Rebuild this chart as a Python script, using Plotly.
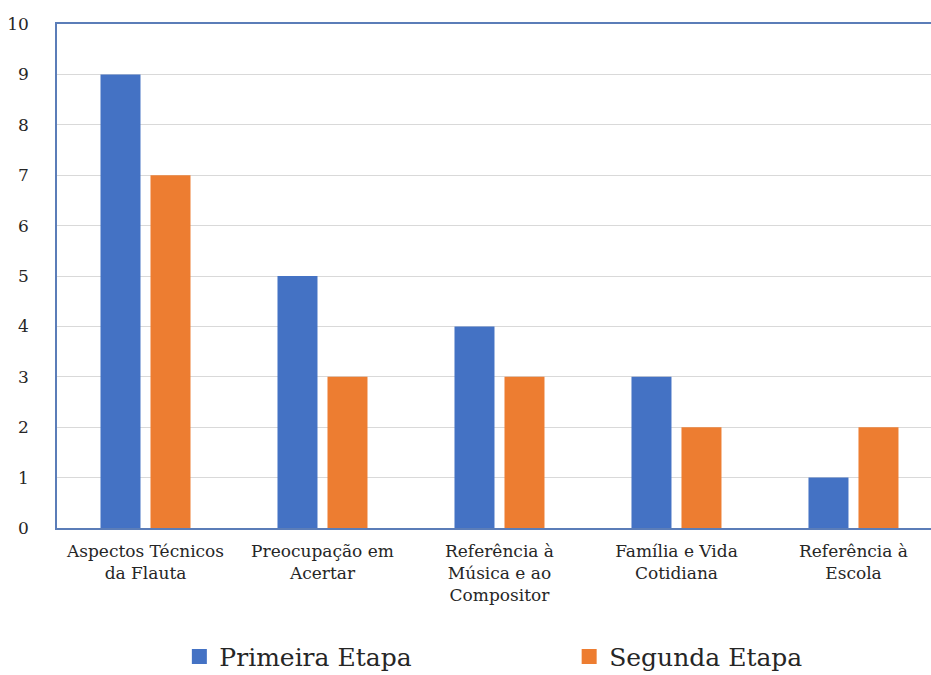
import plotly.graph_objects as go

categories = [
    "Aspectos Técnicos<br>da Flauta",
    "Preocupação em<br>Acertar",
    "Referência à<br>Música e ao<br>Compositor",
    "Família e Vida<br>Cotidiana",
    "Referência à<br>Escola",
]
primeira = [9, 5, 4, 3, 1]
segunda = [7, 3, 3, 2, 2]
series_names = ["Primeira Etapa", "Segunda Etapa"]
colors = ["#4472C4", "#ED7D31"]

FONT = "DejaVu Serif"

fig = go.Figure()
for name, vals, col in zip(series_names, [primeira, segunda], colors):
    fig.add_trace(go.Bar(x=categories, y=vals, name=name, marker_color=col,
                         marker_line_width=0, showlegend=False))
for name, col, lg in zip(series_names, colors, ["legend", "legend2"]):
    fig.add_trace(go.Scatter(x=[None], y=[None], mode="markers", name=name,
                             legend=lg,
                             marker=dict(symbol="square", size=15, color=col)))

legend_common = dict(orientation="h", xanchor="left", yref="container",
                     y=0.027, yanchor="middle",
                     font=dict(size=25, family=FONT, color="#262626"),
                     itemwidth=30, bgcolor="rgba(0,0,0,0)")

fig.update_layout(
    width=931, height=675,
    margin=dict(l=57, r=0, t=24, b=147, autoexpand=False),
    plot_bgcolor="white", paper_bgcolor="white",
    barmode="group", bargap=0.435, bargroupgap=0.2,
    font=dict(family=FONT, color="#262626"),
    legend=dict(x=0.14, **legend_common),
    legend2=dict(x=0.586, **legend_common),
)
fig.update_xaxes(
    type="category", range=[-0.5, 4.438],
    showline=True, linecolor="#5B7DB8", linewidth=1.5, mirror=True,
    showgrid=False, ticks="", ticklabelstandoff=7,
    tickfont=dict(size=17, family=FONT, color="#262626"),
)
fig.update_yaxes(
    range=[0, 10], dtick=1, showgrid=True, gridcolor="#D9D9D9", gridwidth=1,
    showline=True, linecolor="#5B7DB8", linewidth=1.5, zeroline=False,
    ticks="", ticklabelstandoff=23, tickfont=dict(size=17, family=FONT, color="#262626"),
)
fig.write_html("out.html")
